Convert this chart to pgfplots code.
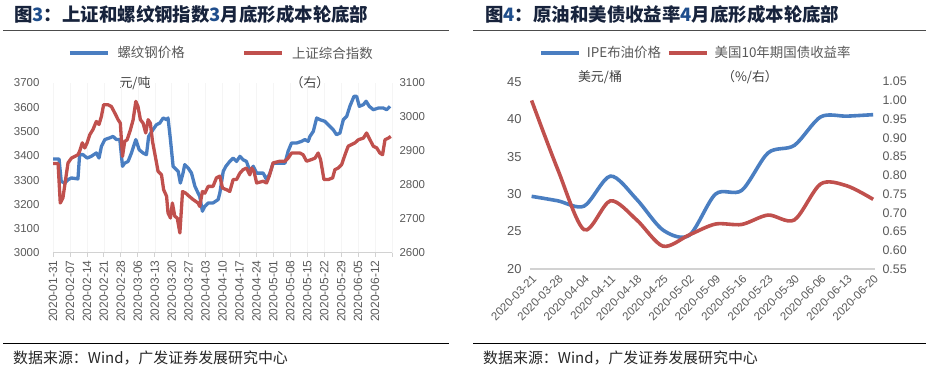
\documentclass[border=0pt]{standalone}
\usepackage{fontspec}
\setmainfont{Liberation Sans}
\newfontfamily\cjk{Noto Sans CJK SC}
\usepackage{pgfplots}
\pgfplotsset{compat=1.18}
\definecolor{sblue}{RGB}{74,126,193}
\definecolor{sred}{RGB}{192,80,77}
\definecolor{tgray}{RGB}{89,89,89}
\definecolor{agray}{RGB}{210,210,210}
\definecolor{navy}{RGB}{23,35,60}
\definecolor{dblue}{RGB}{31,78,140}
\definecolor{ugray}{RGB}{64,64,64}

\pgfplotsset{
  base/.style={
    scale only axis, anchor=south west,
    /pgf/number format/assume math mode=true,
    /pgf/number format/1000 sep={},
    tick label style={text=tgray},
    legend style={draw=none, fill=none, text=tgray,
      font=\cjk\fontsize{13.5}{16}\selectfont, inner sep=0pt, anchor=center},
    legend columns=2,
    legend image code/.code={\draw[#1] (0bp,0bp) -- (38bp,0bp);},
  },
}

\begin{document}
\begin{tikzpicture}
\useasboundingbox (0bp,0bp) rectangle (926bp,376bp);

% ---------- titles and rules ----------
\node[anchor=west, inner sep=0pt, text=navy, font=\cjk\bfseries\fontsize{18.5}{20}\selectfont] at (14bp,362bp)
  {图\textcolor{dblue}{3}：上证和螺纹钢指数\textcolor{dblue}{3}月底形成本轮底部};
\node[anchor=west, inner sep=0pt, text=navy, font=\cjk\bfseries\fontsize{18.5}{20}\selectfont] at (485bp,362bp)
  {图\textcolor{dblue}{4}：原油和美债收益率\textcolor{dblue}{4}月底形成本轮底部};
\draw[line width=0.8bp, black!70] (3bp,346bp) -- (449bp,346bp);
\draw[line width=0.8bp, black!70] (473bp,346bp) -- (926bp,346bp);
\draw[line width=1bp, black] (3bp,32bp) -- (449bp,32bp);
\draw[line width=1bp, black] (473bp,32bp) -- (926bp,32bp);
\node[anchor=west, inner sep=0pt, text=black!85, font=\cjk\fontsize{15}{17}\selectfont] at (13bp,18bp)
  {数据来源：Wind，广发证券发展研究中心};
\node[anchor=west, inner sep=0pt, text=black!85, font=\cjk\fontsize{15}{17}\selectfont] at (483bp,18bp)
  {数据来源：Wind，广发证券发展研究中心};

% unit labels
\node[text=ugray, font=\cjk\fontsize{13}{15}\selectfont] at (135bp,293bp) {元/吨};
\node[text=ugray, font=\cjk\fontsize{13}{15}\selectfont] at (310bp,293bp) {（右）};
\node[text=ugray, font=\cjk\fontsize{13}{15}\selectfont] at (600bp,299bp) {美元/桶};
\node[text=ugray, font=\cjk\fontsize{13}{15}\selectfont] at (750bp,299bp) {（\%/右）};

% ---------- left chart: rebar (left axis) ----------
\begin{axis}[base,
  at={(53bp,123bp)}, width=339bp, height=170bp,
  xmin=0, xmax=140, ymin=3000, ymax=3700,
  axis x line*=bottom, axis y line*=left,
  y axis line style={draw=none}, x axis line style={agray, line width=1bp},
  xtick={0,7,...,133},
  xticklabels={2020-01-31,2020-02-07,2020-02-14,2020-02-21,2020-02-28,2020-03-06,2020-03-13,2020-03-20,2020-03-27,2020-04-03,2020-04-10,2020-04-17,2020-04-24,2020-05-01,2020-05-08,2020-05-15,2020-05-22,2020-05-29,2020-06-05,2020-06-12},
  extra x ticks={140}, extra x tick labels={},
  x tick label style={rotate=90, anchor=east, font=\fontsize{12}{12}\selectfont},
  tick align=outside, xtick style={agray, line width=0.8bp}, major tick length=4bp,
  ytick={3000,3100,...,3700}, ytick style={draw=none},
  y tick label style={font=\fontsize{11.5}{12}\selectfont, xshift=-6bp},
  xmajorgrids, major x grid style={black!4},
]
\addplot[sblue, line width=3.3bp, line join=round] coordinates {
(0,3387)(2.5,3387)(3.4,3295)(4.8,3288)(6.2,3302)(7.6,3309)(10.3,3305)(11.0,3405)(12.4,3405)(14.1,3391)(15.8,3398)(17.9,3412)(19.0,3391)(20.0,3439)(21.4,3467)(23.4,3474)(24.8,3480)(26.2,3467)(27.6,3467)(28.7,3357)(29.6,3370)(31.0,3377)(32.4,3412)(34.2,3467)(35.6,3425)(37.2,3412)(38.6,3405)(39.5,3480)(41.3,3508)(42.7,3528)(44.1,3535)(45.5,3556)(46.9,3549)(47.5,3556)(48.5,3467)(49.6,3357)(51.0,3343)(51.7,3336)(52.6,3288)(53.7,3329)(54.4,3364)(55.8,3350)(57.2,3329)(58.6,3275)(59.9,3247)(60.6,3233)(61.7,3172)(62.7,3192)(64.1,3206)(66.1,3206)(68.2,3220)(68.9,3247)(70.3,3336)(71.4,3357)(73.0,3377)(74.4,3391)(75.8,3377)(77.2,3398)(78.5,3384)(79.9,3377)(81.3,3336)(82.7,3357)(84.1,3329)(86.8,3329)(88.2,3302)(89.6,3329)(90.9,3370)(93.7,3370)(95.8,3370)(97.1,3419)(98.5,3453)(100.6,3453)(102.7,3460)(104.0,3467)(105.4,3460)(106.1,3480)(107.5,3501)(108.9,3556)(110.2,3549)(112.3,3542)(113.7,3528)(115.7,3508)(117.1,3487)(118.5,3494)(119.9,3549)(121.3,3563)(122.6,3604)(124.3,3645)(125.4,3645)(126.5,3604)(128.2,3611)(129.3,3625)(130.6,3604)(132.3,3590)(134.4,3597)(136.4,3597)(137.8,3590)(139.2,3604)
};
\end{axis}

% ---------- left chart: SSE composite (right axis) ----------
\begin{axis}[base,
  at={(53bp,123bp)}, width=339bp, height=170bp,
  xmin=0, xmax=140, ymin=2600, ymax=3100,
  axis x line=none, axis y line*=right,
  y axis line style={draw=none}, ytick style={draw=none},
  ytick={2600,2700,...,3100},
  y tick label style={font=\fontsize{11.5}{12}\selectfont, xshift=4bp},
  legend style={at={(0.497,1.176)},
    /tikz/every odd column/.append style={column sep=6bp},
    /tikz/column 2/.append style={column sep=56bp}},
]
\addlegendimage{sblue, line width=3.3bp}
\addlegendentry{螺纹钢价格}
\addplot[sred, line width=3.3bp, line join=round] coordinates {
(0,2863)(2.1,2863)(3.0,2747)(4.1,2762)(5.2,2816)(6.2,2865)(7.6,2879)(9.0,2884)(10.3,2889)(11.0,2899)(12.1,2924)(13.1,2909)(14.1,2924)(15.2,2948)(16.5,2963)(17.9,2987)(19.0,2978)(20.0,3002)(20.9,3036)(22.7,3036)(24.1,3031)(25.5,3012)(26.9,2992)(27.8,2982)(28.7,2884)(29.6,2928)(30.6,2933)(32.0,2963)(33.1,2992)(34.2,3046)(35.1,3031)(36.1,2992)(37.2,2982)(38.3,2953)(39.3,2992)(40.2,2982)(41.1,2928)(42.0,2894)(43.4,2840)(44.8,2830)(45.7,2786)(46.9,2767)(47.5,2718)(48.5,2703)(49.3,2747)(50.3,2708)(51.3,2703)(52.4,2659)(53.5,2781)(54.8,2776)(56.2,2767)(57.9,2757)(59.9,2747)(60.6,2737)(61.7,2781)(62.7,2776)(64.1,2796)(66.1,2796)(67.5,2821)(68.9,2826)(70.0,2791)(71.7,2786)(73.0,2781)(74.4,2816)(75.8,2816)(77.2,2835)(78.5,2845)(79.9,2850)(81.3,2830)(82.0,2850)(83.0,2840)(84.1,2806)(86.8,2811)(88.2,2806)(89.3,2826)(90.9,2865)(93.7,2870)(95.8,2870)(97.1,2879)(98.5,2894)(102.0,2894)(103.3,2889)(104.7,2870)(106.8,2875)(108.2,2879)(109.5,2894)(110.5,2875)(111.9,2816)(113.7,2816)(115.5,2821)(116.4,2845)(117.8,2850)(119.2,2860)(120.6,2889)(121.9,2914)(123.3,2919)(124.7,2924)(126.1,2933)(128.2,2938)(129.5,2953)(130.9,2933)(132.3,2914)(133.7,2909)(135.0,2894)(136.1,2889)(137.1,2933)(138.5,2938)(139.5,2943)
};
\addlegendentry{上证综合指数}
\end{axis}

% ---------- right chart: IPE Brent (left axis) ----------
\begin{axis}[base,
  at={(530bp,107bp)}, width=345bp, height=187.3bp,
  xmin=-0.06, xmax=13.07, ymin=20, ymax=45,
  axis x line*=bottom, axis y line*=left,
  y axis line style={draw=none}, x axis line style={agray, line width=1.2bp},
  xtick={0,...,13},
  xticklabels={2020-03-21,2020-03-28,2020-04-04,2020-04-11,2020-04-18,2020-04-25,2020-05-02,2020-05-09,2020-05-16,2020-05-23,2020-05-30,2020-06-06,2020-06-13,2020-06-20},
  xtick style={draw=none},
  x tick label style={rotate=45, anchor=north east, font=\fontsize{11.5}{12}\selectfont},
  ytick={20,25,...,45}, ytick style={draw=none},
  y tick label style={font=\fontsize{13}{14}\selectfont, xshift=-5bp},
]
\addplot[sblue, line width=3.6bp, smooth, tension=0.5] coordinates {
(0,29.7)(1,29.1)(2,28.4)(3,32.4)(4,29.3)(5,25.2)(6,24.5)(7,30.0)(8,30.5)(9,35.5)(10,36.5)(11,40.3)(12,40.4)(13,40.6)
};
\end{axis}

% ---------- right chart: US 10y yield (right axis) ----------
\begin{axis}[base,
  at={(530bp,107bp)}, width=345bp, height=187.3bp,
  xmin=-0.06, xmax=13.07, ymin=0.55, ymax=1.05,
  axis x line=none, axis y line*=right,
  y axis line style={draw=none}, ytick style={draw=none},
  ytick={0.55,0.60,...,1.06},
  yticklabel style={/pgf/number format/fixed, /pgf/number format/fixed zerofill, /pgf/number format/precision=2,
    font=\fontsize{12.5}{14}\selectfont, xshift=4bp},
  legend style={at={(0.481,1.153)},
    /tikz/every odd column/.append style={column sep=4bp},
    /tikz/column 2/.append style={column sep=4bp}},
]
\addlegendimage{sblue, line width=3.6bp}
\addlegendentry{IPE布油价格}
\addplot[sred, line width=3.6bp, smooth, tension=0.5] coordinates {
(0,1.00)(1,0.815)(2,0.655)(3,0.732)(4,0.681)(5,0.611)(6,0.641)(7,0.670)(8,0.669)(9,0.694)(10,0.681)(11,0.777)(12,0.772)(13,0.736)
};
\addlegendentry{美国10年期国债收益率}
\end{axis}
\end{tikzpicture}
\end{document}
